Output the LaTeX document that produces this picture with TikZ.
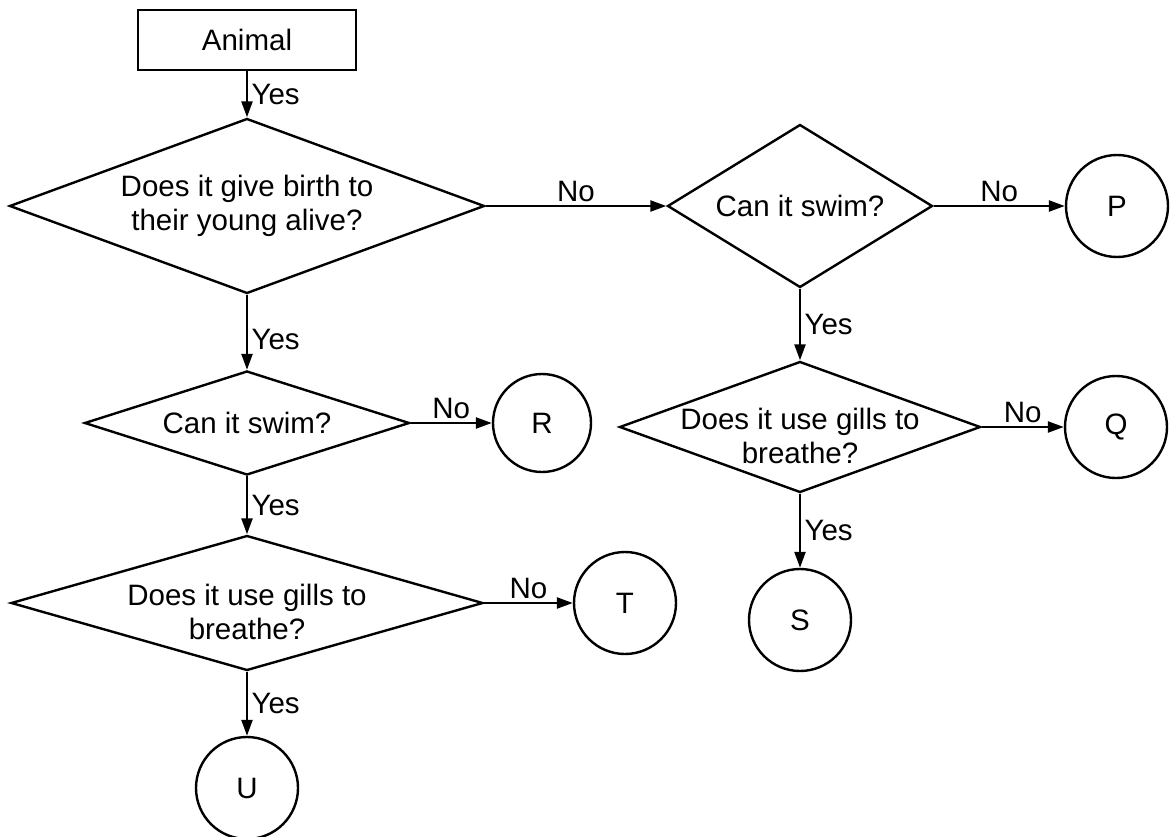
\documentclass[tikz,border=0pt]{standalone}
\usepackage{fontspec}
\setmainfont{Liberation Sans}
\usetikzlibrary{shapes.geometric,arrows.meta}

\begin{document}
\begin{tikzpicture}[x=1pt,y=-1pt,line width=2.4pt,font=\fontsize{29.5}{34}\selectfont,
	>={Triangle[length=16pt,width=11pt]},
	start/.style={rectangle,draw,minimum width=218pt,minimum height=60pt},
	question/.style={diamond,draw,inner sep=0pt},
	answer/.style={circle,draw,minimum size=102pt,inner sep=0pt}]
	\useasboundingbox (0,0) rectangle (1172,837);

	\node[start] at (247,40) (animal) {Animal};
	\node[question,minimum width=475pt,minimum height=175pt,
		label={[align=center]center:{Does it give birth to\\their young alive?}}] at (247,206) (birth) {};
	\draw[->] (animal) -- (birth) node [midway,right] {Yes};


	\node[question,minimum width=265pt,minimum height=163pt,
		label=center:{Can it swim?}] at (800,206) (swimA) {};
	\node[answer] at (1117,206) (P) {P};
	\draw[->] (birth.east) -- (swimA.west) node [midway,above] {No};
	\draw[->] (swimA.east) -- (P) node [midway,above] {No};


	\node[question,minimum width=361pt,minimum height=131pt,
		label={[align=center,yshift=-9pt]center:{Does it use gills to\\breathe?}}] at (800,427) (gillsA) {};
	\node[answer] at (1116,427) (Q) {Q};
	\node[answer] at (800,620) (S) {S};
	\draw[->] (swimA.south) -- (gillsA.north) node [midway,right] {Yes};
	\draw[->] (gillsA.east) -- (Q) node [midway,above] {No};
	\draw[->] (gillsA.south) -- (S) node [midway,right] {Yes};


	\node[question,minimum width=325pt,minimum height=104pt,
		label=center:{Can it swim?}] at (247,423) (swimB) {};
	\node[answer,minimum size=98pt] at (542,423) (R) {R};
	\draw[->] (birth.south) -- (swimB.north) node [pos=0.6,right] {Yes};
	\draw[->] (swimB.east) -- (R) node [midway,above] {No};


	\node[question,minimum width=472pt,minimum height=135pt,
		label={[align=center,yshift=-9pt]center:{Does it use gills to\\breathe?}}] at (247,603) (gillsB) {};
	\node[answer] at (625,603) (T) {T};
	\node[answer] at (247,788) (U) {U};
	\draw[->] (swimB.south) -- (gillsB.north) node [midway,right] {Yes};
	\draw[->] (gillsB.east) -- (T) node [midway,above] {No};
	\draw[->] (gillsB.south) -- (U) node [midway,right] {Yes};
\end{tikzpicture}
\end{document}
